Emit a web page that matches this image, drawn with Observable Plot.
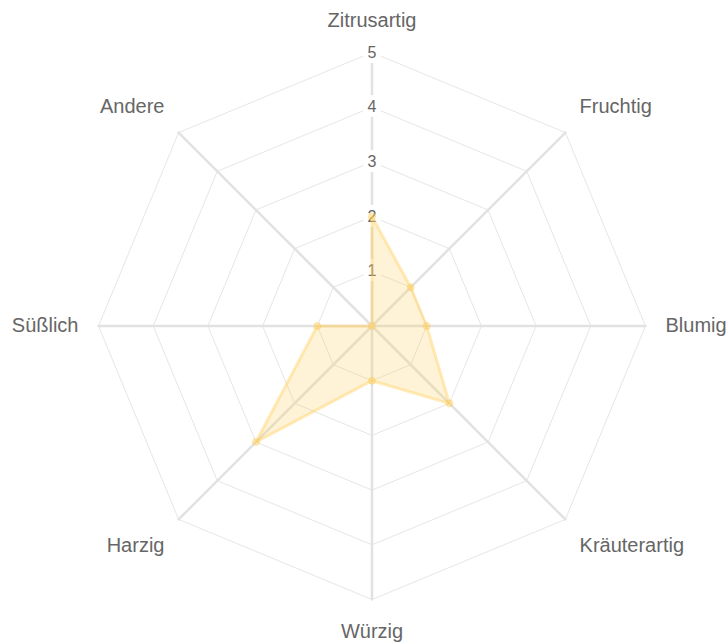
<!DOCTYPE html>
<html>
<head>
<meta charset="utf-8">
<script src="https://cdn.jsdelivr.net/npm/d3@7"></script>
<script src="https://cdn.jsdelivr.net/npm/@observablehq/plot@0.6"></script>
<style>
  html, body { margin: 0; padding: 0; background: #fff; }
  #chart svg { display: block; }
</style>
</head>
<body>
<div id="chart"></div>
<script>
// Data
const categories = ["Zitrusartig", "Fruchtig", "Blumig", "Kräuterartig", "Würzig", "Harzig", "Süßlich", "Andere"];
const values = [2, 1, 1, 2, 1, 3, 1, 0];
const ticks = [1, 2, 3, 4, 5];
const maxValue = 5;

const n = categories.length;
const angle = i => (i * 2 * Math.PI) / n; // clockwise from top
const px = (i, r) => r * Math.sin(angle(i));
const py = (i, r) => r * Math.cos(angle(i));

// Pixel-per-unit geometry of the chart area
const W = 728, H = 643;
const unit = 54.7;
const cx = 371.5, cy = 325.5;
const xDomain = [-cx / unit, (W - cx) / unit];
const yDomain = [-(H - cy) / unit, cy / unit];

// Grid rings (octagons)
const rings = ticks.flatMap(t =>
  d3.range(n + 1).map(i => ({ ring: t, x: px(i % n, t), y: py(i % n, t) }))
);
// Spokes
const spokes = categories.flatMap((c, i) => [
  { spoke: c, x: 0, y: 0 },
  { spoke: c, x: px(i, maxValue), y: py(i, maxValue) }
]);
// Data polygon
const poly = categories.map((c, i) => ({ cat: c, x: px(i, values[i]), y: py(i, values[i]) }));

// Point labels: placed just outside the outer ring, shifted by half a text line vertically
const labelR = (maxValue * unit + 20) / unit;
const halfLine = 12 / unit;
const labels = categories.map((c, i) => {
  const s = Math.sin(angle(i)), co = Math.cos(angle(i));
  const horiz = Math.abs(co) < 1e-6;
  const anchor = Math.abs(s) < 1e-6 ? "middle" : s > 0 ? "start" : "end";
  let y = labelR * co;
  if (!horiz) y += co > 0 ? halfLine : -halfLine;
  return { text: c, x: labelR * s, y, anchor };
});

const yellowFill = "rgba(255, 205, 86, 0.24)";
const yellowStroke = "rgba(255, 205, 86, 0.4)";

const chart = Plot.plot({
  width: W,
  height: H,
  margin: 0,
  x: { domain: xDomain, axis: null },
  y: { domain: yDomain, axis: null },
  style: { fontFamily: "'Liberation Sans', Arial, sans-serif", background: "#fff" },
  marks: [
    Plot.line(rings, { x: "x", y: "y", z: "ring", stroke: "#e6e6e6", strokeWidth: 1 }),
    Plot.line(spokes, { x: "x", y: "y", z: "spoke", stroke: "#e2e2e2", strokeWidth: 2.5 }),
    Plot.text(ticks, {
      x: () => 0, y: d => d, text: d => String(d),
      fill: "#666", fontSize: 16, stroke: "white", strokeWidth: 10, textAnchor: "middle", lineAnchor: "middle"
    }),
    Plot.line(poly, {
      x: "x", y: "y", curve: "linear-closed",
      fill: yellowFill, stroke: yellowStroke, strokeWidth: 3, strokeLinejoin: "round"
    }),
    Plot.dot(poly, { x: "x", y: "y", r: 3.5, fill: "rgba(255, 205, 86, 0.4)", stroke: "rgba(255, 205, 86, 0.45)", strokeWidth: 1 }),
    ...["start", "middle", "end"].map(a =>
      Plot.text(labels.filter(l => l.anchor === a), {
        x: "x", y: "y", text: "text", textAnchor: a, lineAnchor: "middle",
        fill: "#666", fontSize: 20
      })
    )
  ]
});

document.getElementById("chart").appendChild(chart);
</script>
</body>
</html>
